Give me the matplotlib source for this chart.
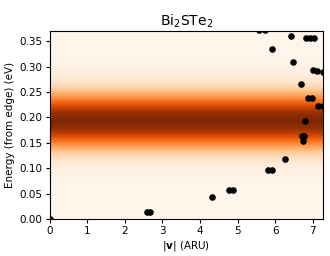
import numpy as np
import matplotlib
matplotlib.use("Agg")
import matplotlib.pyplot as plt

# Spectral intensity profile (normalised) vs energy
energy_rows = [0.00, 0.01, 0.02, 0.03, 0.04, 0.05, 0.06, 0.07, 0.08, 0.09,
               0.10, 0.11, 0.12, 0.13, 0.14, 0.15, 0.16, 0.17, 0.18, 0.19,
               0.20, 0.21, 0.22, 0.23, 0.24, 0.25, 0.26, 0.27, 0.28, 0.29,
               0.30, 0.31, 0.32, 0.33, 0.34, 0.35, 0.36, 0.37]
intensity = [0.0, 0.0, 0.0, 0.0, 0.0, 0.001, 0.002, 0.005, 0.013, 0.027,
             0.053, 0.097, 0.166, 0.264, 0.392, 0.543, 0.701, 0.846, 0.951, 0.999,
             0.978, 0.894, 0.762, 0.607, 0.450, 0.312, 0.202, 0.122, 0.069, 0.036,
             0.018, 0.008, 0.003, 0.001, 0.0, 0.0, 0.0, 0.0]

# Scatter points: |v| (ARU) and energy (eV)
v_abs = [0.00, 2.59, 2.67, 4.33, 4.77, 4.88, 5.80, 5.91, 6.25,
         6.71, 6.76, 6.74, 6.80, 6.88, 6.98, 7.13, 7.26, 6.68,
         7.01, 7.11, 7.26, 6.46, 5.91, 6.42, 6.82, 6.92, 7.02, 5.58, 5.72]
e_pts = [0.000, 0.0145, 0.0145, 0.043, 0.057, 0.057, 0.096, 0.096, 0.119,
         0.164, 0.164, 0.154, 0.192, 0.238, 0.238, 0.223, 0.223, 0.266,
         0.294, 0.291, 0.290, 0.309, 0.334, 0.361, 0.357, 0.357, 0.357, 0.371, 0.371]

xmax = 7.27
ymax = 0.37

fig = plt.figure(figsize=(3.3, 2.56), dpi=100)
ax = fig.add_axes([0.150, 0.1445, 0.829, 0.7345])

img = np.repeat(np.array(intensity)[:, None], 2, axis=1)
step = energy_rows[1] - energy_rows[0]
ax.imshow(img, origin="lower", aspect="auto", cmap="Oranges",
          extent=[0, xmax, energy_rows[0] - step / 2, energy_rows[-1] + step / 2],
          interpolation="bilinear", vmin=0, vmax=1)
ax.scatter(v_abs, e_pts, s=14, c="black", zorder=3)

ax.set_xlim(0, xmax)
ax.set_ylim(0, ymax)
ax.set_xticks(range(0, 8))
ax.set_yticks([0.00, 0.05, 0.10, 0.15, 0.20, 0.25, 0.30, 0.35])
ax.set_yticklabels(["0.00", "0.05", "0.10", "0.15", "0.20", "0.25", "0.30", "0.35"])
ax.tick_params(labelsize=7.5, length=3, width=0.8, pad=2)
ax.set_xlabel(r"$|\mathbf{v}|$ (ARU)", fontsize=7.5, labelpad=2)
ax.set_ylabel("Energy (from edge) (eV)", fontsize=7.5, labelpad=3)
ax.set_title(r"Bi$_2$STe$_2$", fontsize=10, pad=4)

fig.savefig("out.png", dpi=100)
